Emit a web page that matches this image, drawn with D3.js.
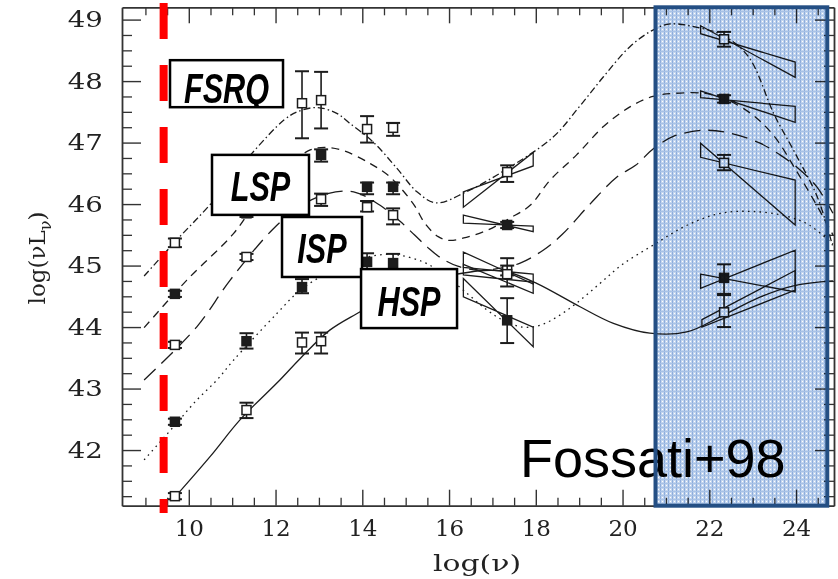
<!DOCTYPE html>
<html>
<head>
<meta charset="utf-8">
<script src="https://cdn.jsdelivr.net/npm/d3@7"></script>
<style>
  body { margin: 0; background: #fff; }
  svg { display: block; }
</style>
</head>
<body>
<svg id="chart" width="838" height="579"></svg>
<script>
const xTickValues = [10, 12, 14, 16, 18, 20, 22, 24];
const yTickValues = [42, 43, 44, 45, 46, 47, 48, 49];

// model curves [log nu, log nuLnu]
const curveDashDot = [[8.97,44.83],[9.7,45.4],[10.5,46.0],[11.45,46.82],[12.2,47.37],[12.5,47.5],[12.95,47.57],[13.4,47.48],[13.7,47.32],[14.25,47.01],[14.8,46.58],[15.26,46.2],[15.7,46.02],[16.4,46.2],[17.4,46.6],[18.4,47.09],[19.0,47.58],[19.56,48.07],[20.17,48.56],[20.7,48.83],[21.1,48.93],[21.8,48.86],[22.3,48.75],[22.9,48.4],[23.5,47.45],[24.0,46.8],[24.5,46.1],[24.85,45.3]];
const curveShortDash = [[8.97,43.99],[9.95,44.76],[11.03,45.52],[11.5,45.98],[12.1,46.5],[12.8,46.88],[13.2,46.92],[13.6,46.86],[14.18,46.66],[14.64,46.44],[15.18,46.0],[15.45,45.68],[15.75,45.47],[16.0,45.41],[16.4,45.46],[16.9,45.58],[17.4,45.77],[17.87,45.98],[18.33,46.39],[18.94,46.8],[19.56,47.26],[20.17,47.58],[20.7,47.75],[21.2,47.8],[21.9,47.8],[22.4,47.7],[23.0,47.45],[23.5,47.1],[24.0,46.55],[24.5,45.95],[24.85,45.5]];
const curveLongDash = [[8.97,43.14],[10.18,44.0],[10.95,44.76],[11.95,45.6],[12.6,45.98],[13.2,46.17],[13.8,46.2],[14.41,45.98],[14.87,45.72],[15.2,45.5],[15.5,45.3],[15.8,45.13],[16.2,44.99],[16.7,44.92],[17.2,44.96],[17.64,45.04],[18.17,45.25],[18.6,45.5],[19.25,46.0],[19.87,46.44],[20.3,46.63],[20.71,46.9],[21.17,47.1],[21.86,47.2],[22.5,47.15],[23.17,46.99],[23.63,46.8],[24.02,46.6],[24.48,46.28],[24.85,45.85]];
const curveDotted = [[8.97,41.84],[9.65,42.38],[10.18,42.81],[10.65,43.14],[11.03,43.46],[12.03,44.22],[12.57,44.6],[13.3,44.92],[14.0,45.12],[14.72,45.18],[15.4,45.06],[15.9,44.85],[16.33,44.6],[16.87,44.28],[17.25,44.11],[17.7,44.0],[18.1,44.03],[18.5,44.17],[18.94,44.39],[19.48,44.71],[20.0,45.02],[20.7,45.33],[21.5,45.66],[22.26,45.85],[23.0,45.88],[23.8,45.8],[24.3,45.66],[24.85,45.35]];
const curveSolid = [[9.7,41.25],[10.5,41.9],[11.18,42.49],[12.1,43.14],[12.57,43.49],[13.25,43.95],[13.95,44.25],[14.6,44.52],[15.3,44.74],[16.18,44.86],[16.8,44.92],[17.33,44.9],[18.02,44.71],[19.02,44.33],[19.79,44.06],[20.63,43.9],[21.48,43.92],[22.26,44.17],[23.18,44.49],[23.94,44.67],[24.85,44.75]];

// points [log nu, log nuLnu, low, high]
const bin1Points = [[9.68,45.37,45.3,45.44],[12.61,47.64,47.07,48.16],[13.05,47.69,47.23,48.15],[14.11,47.22,47.0,47.43],[14.71,47.24,47.11,47.32],[17.34,46.52,46.36,46.63],[22.34,48.68,48.56,48.8]];
const bin2Points = [[9.68,44.54,44.49,44.59],[11.33,45.85,45.79,45.91],[13.05,46.8,46.69,46.89],[14.11,46.28,46.16,46.35],[14.71,46.28,46.16,46.35],[17.34,45.66,45.61,45.71],[22.34,47.71,47.65,47.77]];
const bin3Points = [[9.68,43.71,43.66,43.76],[11.33,45.14,45.09,45.19],[13.05,46.08,45.97,46.17],[14.11,45.95,45.88,46.05],[14.71,45.82,45.67,45.93],[17.34,44.92,44.84,45.0],[22.34,46.67,46.55,46.8]];
const bin4Points = [[9.68,42.46,42.41,42.51],[11.33,43.77,43.65,43.9],[12.61,44.65,44.55,44.78],[14.11,45.06,44.94,45.2],[14.71,45.04,44.9,45.19],[17.34,44.11,43.74,44.47],[22.34,44.8,44.54,45.02]];
const bin5Points = [[9.68,41.25,41.2,41.3],[11.33,42.65,42.52,42.77],[12.61,43.75,43.57,43.91],[13.05,43.77,43.57,43.91],[17.34,44.86,44.66,45.12],[22.34,44.24,44.0,44.52]];

// spectral bowties [nu lo, nu hi, lineA left, lineA right, lineB left, lineB right]
const xrayBowties = [[16.33,17.94,46.2,46.62,45.95,46.84],[16.33,17.94,45.82,45.55,45.69,45.64],[16.33,17.94,45.22,44.7,44.97,44.86],[16.33,17.94,44.79,43.68,44.49,44.0],[16.33,17.94,45.02,44.55,44.85,44.73]];
const gammaBowties = [[21.8,23.98,48.9,48.06,48.77,48.31],[21.8,23.98,47.84,47.33,47.73,47.59],[21.8,23.98,46.99,45.66,46.76,46.39],[21.8,23.98,44.86,44.57,44.63,45.25],[21.83,23.98,44.12,44.92,44.0,44.6]];

const classNames = ["FSRQ", "LSP", "ISP", "HSP"];
const classAnchors = [[9.567,48.34],[10.535,46.8],[12.149,45.79],[13.971,44.943]];
const redLineNu = 9.42;
const gammaBand = [20.76, 24.72];

// ---- layout ----
const svg = d3.select("#chart");
const x = d3.scaleLinear().domain([8.46, 24.875]).range([122, 834]);
const y = d3.scaleLinear().domain([41.095, 49.2]).range([505.7, 7.3]);
const ink = "#1c1c1c";

// axes (ticks inward on all four sides)
const xMinor = d3.range(9, 24.9, 0.5).filter(v => v % 2 !== 0);
const yMinor = d3.range(41.25, 49.2, 0.25).filter(v => v % 1 !== 0);

function styleAxis(g) {
  g.select(".domain").attr("stroke", "#333").attr("stroke-width", 1.8);
  g.selectAll(".tick line").attr("stroke", "#333").attr("stroke-width", 1.4);
  g.attr("font-family", "DejaVu Serif").attr("font-size", 23);
  g.selectAll(".tick text").attr("fill", "#222");
}
function minorAxis(axis, tr) {
  svg.append("g").attr("transform", tr).call(axis.tickFormat(() => ""))
    .call(g => g.select(".domain").remove())
    .call(g => g.selectAll(".tick line").attr("stroke", "#333").attr("stroke-width", 1.3));
}

svg.append("g").attr("transform", "translate(0,505.7)")
  .call(d3.axisBottom(x).tickValues(xTickValues).tickSize(-16).tickSizeOuter(0).tickPadding(14))
  .call(styleAxis);
svg.append("g").attr("transform", "translate(0,7.3)")
  .call(d3.axisTop(x).tickValues(xTickValues).tickSize(-16).tickSizeOuter(0).tickFormat(() => ""))
  .call(styleAxis);
svg.append("g").attr("transform", "translate(122,0)")
  .call(d3.axisLeft(y).tickValues(yTickValues).tickSize(-19).tickSizeOuter(0).tickPadding(16))
  .call(styleAxis)
  .call(g => g.selectAll(".tick text").attr("transform", "scale(1.2,1)"));
svg.append("g").attr("transform", "translate(834,0)")
  .call(d3.axisRight(y).tickValues(yTickValues).tickSize(-19).tickSizeOuter(0).tickFormat(() => ""))
  .call(styleAxis);

minorAxis(d3.axisBottom(x).tickValues(xMinor).tickSize(-8), "translate(0,505.7)");
minorAxis(d3.axisTop(x).tickValues(xMinor).tickSize(-8), "translate(0,7.3)");
minorAxis(d3.axisLeft(y).tickValues(yMinor).tickSize(-10), "translate(122,0)");
minorAxis(d3.axisRight(y).tickValues(yMinor).tickSize(-10), "translate(834,0)");

// axis titles
svg.append("text")
  .attr("transform", "translate(477,571) scale(1.3,1)")
  .attr("text-anchor", "middle")
  .attr("font-family", "DejaVu Serif").attr("font-size", 23).attr("fill", "#222")
  .text("log(ν)");
const yt = svg.append("text")
  .attr("transform", "translate(45,258) rotate(-90)")
  .attr("text-anchor", "middle")
  .attr("font-family", "DejaVu Serif").attr("font-size", 23).attr("fill", "#222");
yt.append("tspan").text("log(νL");
yt.append("tspan").attr("dy", 6).attr("font-size", 16).text("ν");
yt.append("tspan").attr("dy", -6).text(")");

// model curves
const line = d3.line().x(d => x(d[0])).y(d => y(d[1])).curve(d3.curveCatmullRom.alpha(0.5));
const curves = [
  [curveDashDot, "7,3,1.5,3"],
  [curveShortDash, "8,6"],
  [curveLongDash, "16,8"],
  [curveDotted, "1.6,4.2"],
  [curveSolid, null]
];
curves.forEach(([data, dash]) => {
  svg.append("path").attr("d", line(data))
    .attr("fill", "none").attr("stroke", ink).attr("stroke-width", 1.3)
    .attr("stroke-dasharray", dash);
});

// bowties
const tie = d3.line().x(d => x(d[0])).y(d => y(d[1])).curve(d3.curveLinearClosed);
svg.append("g").selectAll("path")
  .data(xrayBowties.concat(gammaBowties))
  .join("path")
  .attr("d", b => tie([[b[0], b[2]], [b[1], b[3]], [b[1], b[5]], [b[0], b[4]]]))
  .attr("fill", "none").attr("stroke", ink).attr("stroke-width", 1.3);

// data points with error bars
const bins = [[bin1Points, false], [bin2Points, true], [bin3Points, false], [bin4Points, true], [bin5Points, false]];
bins.forEach(([pts, filled]) => {
  const g = svg.append("g");
  const pt = g.selectAll("g").data(pts).join("g");
  pt.append("line")
    .attr("x1", d => x(d[0])).attr("x2", d => x(d[0]))
    .attr("y1", d => y(d[2])).attr("y2", d => y(d[3]))
    .attr("stroke", ink).attr("stroke-width", 1.6);
  [2, 3].forEach(k => {
    pt.append("line")
      .attr("x1", d => x(d[0]) - 7).attr("x2", d => x(d[0]) + 7)
      .attr("y1", d => y(d[k])).attr("y2", d => y(d[k]))
      .attr("stroke", ink).attr("stroke-width", 2);
  });
  pt.append("rect")
    .attr("x", d => x(d[0]) - 4.5).attr("y", d => y(d[1]) - 4.5)
    .attr("width", 9).attr("height", 9)
    .attr("fill", filled ? ink : "#fff")
    .attr("stroke", ink).attr("stroke-width", 1.5);
});

// reference text
svg.append("text")
  .attr("x", 520).attr("y", 477)
  .attr("font-family", "Liberation Sans, Arial, sans-serif").attr("font-size", 54)
  .attr("fill", "#000")
  .text("Fossati+98");

// gamma-ray band highlight
const defs = svg.append("defs");
const pat = defs.append("pattern").attr("id", "grid")
  .attr("width", 4).attr("height", 4).attr("patternUnits", "userSpaceOnUse");
pat.append("rect").attr("width", 4).attr("height", 4).attr("fill", "#c3d5ee");
pat.append("rect").attr("width", 1).attr("height", 4).attr("fill", "#8eaedd");
pat.append("rect").attr("y", 3).attr("width", 4).attr("height", 1).attr("fill", "#a8c2e6");
pat.append("rect").attr("x", 2).attr("y", 1).attr("width", 1).attr("height", 1).attr("fill", "#ffffff");

const bx0 = x(gammaBand[0]), bx1 = x(gammaBand[1]);
svg.append("rect")
  .attr("x", bx0).attr("y", y(49.2)).attr("width", bx1 - bx0).attr("height", y(41.095) - y(49.2))
  .attr("fill", "url(#grid)").style("mix-blend-mode", "multiply");
svg.append("rect")
  .attr("x", bx0).attr("y", y(49.2)).attr("width", bx1 - bx0).attr("height", y(41.095) - y(49.2))
  .attr("fill", "none").attr("stroke", "#244f84").attr("stroke-width", 4);

// class labels
const boxSizes = [[113, 47], [97, 60], [80, 60], [96, 59]];
const textDrop = [43, 46.5, 46.5, 46.5];
classNames.forEach((name, i) => {
  const bx = x(classAnchors[i][0]), by = y(classAnchors[i][1]);
  const [bw, bh] = boxSizes[i];
  const id = "clip" + i;
  defs.append("clipPath").attr("id", id)
    .append("rect").attr("x", bx).attr("y", by).attr("width", bw).attr("height", bh);
  svg.append("rect").attr("x", bx).attr("y", by).attr("width", bw).attr("height", bh).attr("fill", "#fff");
  svg.append("g").attr("clip-path", `url(#${id})`)
    .append("text")
    .attr("transform", `translate(${bx + bw / 2},${by + textDrop[i]}) scale(0.73,1)`)
    .attr("text-anchor", "middle")
    .attr("font-family", "Liberation Sans, Arial, sans-serif")
    .attr("font-weight", "bold").attr("font-style", "italic")
    .attr("font-size", 42)
    .attr("fill", "#000")
    .text(name);
  svg.append("rect").attr("x", bx).attr("y", by).attr("width", bw).attr("height", bh)
    .attr("fill", "none").attr("stroke", "#000").attr("stroke-width", 2.5);
});

// red dashed marker
svg.append("line")
  .attr("x1", x(redLineNu)).attr("x2", x(redLineNu))
  .attr("y1", 3).attr("y2", 513)
  .attr("stroke", "#ff0000").attr("stroke-width", 8)
  .attr("stroke-dasharray", "36,26");
</script>
</body>
</html>
